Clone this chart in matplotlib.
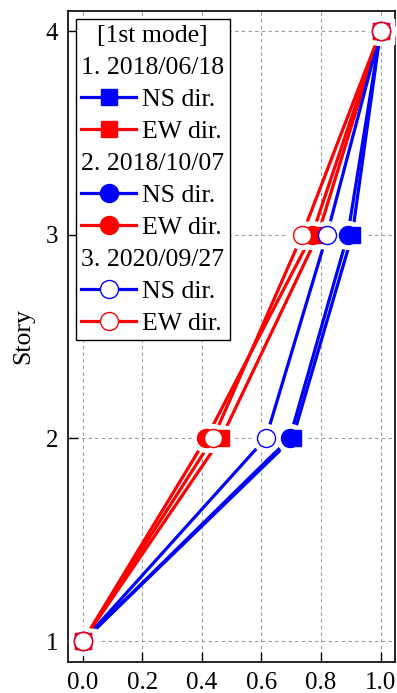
import numpy as np
import matplotlib
matplotlib.use("Agg")
import matplotlib.pyplot as plt
from matplotlib.lines import Line2D

plt.rcParams['font.family'] = ['Liberation Serif', 'DejaVu Serif']
plt.rcParams['font.size'] = 18.5

# First mode shapes, normalised to the top story
story = [1, 2, 3, 4]
ns_20180618 = [0.0, 0.705, 0.905, 1.0]
ew_20180618 = [0.0, 0.465, 0.790, 1.0]
ns_20181007 = [0.0, 0.695, 0.890, 1.0]
ew_20181007 = [0.0, 0.415, 0.770, 1.0]
ns_20200927 = [0.0, 0.615, 0.820, 1.0]
ew_20200927 = [0.0, 0.438, 0.737, 1.0]

dates = ["1. 2018/06/18", "2. 2018/10/07", "3. 2020/09/27"]

blue = '#0000ff'
red = '#ff0000'

series = [
    (ns_20180618, blue, 's', True, 11),
    (ew_20180618, red, 's', True, 11),
    (ns_20181007, blue, 'o', True, 13),
    (ew_20181007, red, 'o', True, 13),
    (ns_20200927, blue, 'o', False, 13),
    (ew_20200927, red, 'o', False, 13),
]

fig = plt.figure(figsize=(3.97, 6.93), dpi=100)
ax = fig.add_axes([0.171, 0.045, 0.825, 0.939])

# lines first, then a white halo so each line stops short of the symbols
for x, c, m, filled, ms in series:
    ax.plot(x, story, color=c, lw=2.3, zorder=2)
for x, c, m, filled, ms in series:
    ax.plot(x, story, ls='none', marker=m, ms=ms + 7, mfc='white', mec='white', zorder=3)
for x, c, m, filled, ms in series:
    ax.plot(x, story, ls='none', marker=m, ms=ms, mfc=c if filled else 'white',
            mec=c, mew=1.0, zorder=4)

ax.set_xlim(-0.05, 1.05)
ax.set_ylim(0.9, 4.1)
ax.set_xticks(np.arange(0, 1.01, 0.2))
ax.set_xticklabels(["0.0", "0.2", "0.4", "0.6", "0.8", "1.0"])
ax.set_yticks(story)
ax.set_ylabel("Story", fontsize=18.5, labelpad=8)
ax.tick_params(direction='in', length=7, width=1, pad=7, labelsize=18)
ax.grid(True, ls=(0, (3, 3)), color='#999999', lw=0.8)
for s in ax.spines.values():
    s.set_linewidth(1.2)

# legend: header rows with no handle
blank = Line2D([], [], ls='none')
handles = [blank]
labels = ["[1st mode]"]
for i, d in enumerate(dates):
    handles.append(blank)
    labels.append(d)
    for x, c, m, filled, ms in series[2 * i:2 * i + 2]:
        handles.append(Line2D([], [], color=c, lw=2.3, marker=m, ms=ms,
                              mfc=c if filled else 'white', mec=c, mew=1.0))
    labels += ["NS dir.", "EW dir."]

leg = ax.legend(handles, labels, loc='upper left', handlelength=2.15,
                handletextpad=0.23, labelspacing=0.35, borderpad=0.2,
                borderaxespad=0.32, fancybox=False, edgecolor='black',
                framealpha=1)
leg.get_frame().set_linewidth(1.0)

# collapse the handle box on header rows
rows = leg._legend_handle_box.get_children()[0].get_children()
for idx in [0, 1, 4, 7]:
    rows[idx].get_children()[0].width = 0
    rows[idx].sep = 0

# centre the title row inside the frame
fig.canvas.draw()
fr = leg.get_frame().get_window_extent()
tb = leg.get_texts()[0].get_window_extent()
shift = (fr.x0 + fr.width / 2) - (tb.x0 + tb.width / 2)
rows[0].get_children()[0].width = shift * 72 / fig.dpi

fig.savefig("out.png", dpi=100)
